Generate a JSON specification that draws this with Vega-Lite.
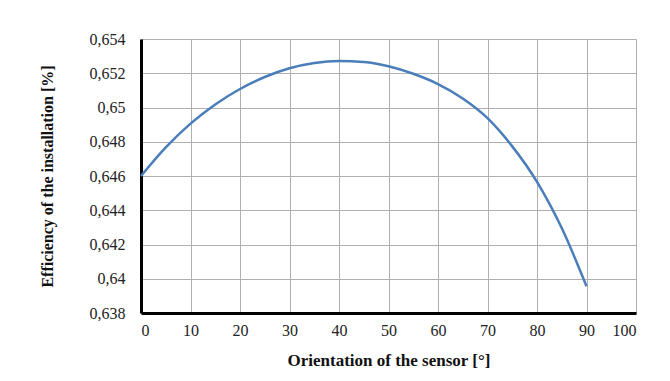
{
  "$schema": "https://vega.github.io/schema/vega-lite/v6.json",
  "autosize": {"type": "none"},
  "width": 495,
  "height": 274,
  "padding": {"left": 141, "top": 39, "right": 34, "bottom": 68},
  "background": "white",
  "config": {
    "view": {"stroke": "#b0b0b0", "strokeWidth": 1},
    "axis": {
      "labelFont": "Times New Roman, Liberation Serif, DejaVu Serif, serif",
      "labelFontSize": 16,
      "labelColor": "#222222",
      "titleFont": "Times New Roman, Liberation Serif, DejaVu Serif, serif",
      "titleFontWeight": "bold",
      "titleColor": "#111111",
      "gridColor": "#b0b0b0",
      "gridWidth": 1,
      "gridOpacity": 1,
      "ticks": false,
      "domainColor": "#000000",
      "domainWidth": 3
    }
  },
  "data": {
    "values": [
      {"angle": 0, "eff": 0.64600},
      {"angle": 5, "eff": 0.64767},
      {"angle": 10, "eff": 0.64906},
      {"angle": 15, "eff": 0.65018},
      {"angle": 20, "eff": 0.65108},
      {"angle": 25, "eff": 0.65178},
      {"angle": 30, "eff": 0.65229},
      {"angle": 35, "eff": 0.65260},
      {"angle": 40, "eff": 0.65272},
      {"angle": 45, "eff": 0.65266},
      {"angle": 50, "eff": 0.65241},
      {"angle": 55, "eff": 0.65197},
      {"angle": 60, "eff": 0.65137},
      {"angle": 65, "eff": 0.65053},
      {"angle": 70, "eff": 0.64938},
      {"angle": 75, "eff": 0.64773},
      {"angle": 80, "eff": 0.64566},
      {"angle": 85, "eff": 0.64296},
      {"angle": 90, "eff": 0.63956}
    ]
  },
  "mark": {"type": "line", "color": "#4a7ebb", "strokeWidth": 2.5, "interpolate": "monotone"},
  "encoding": {
    "x": {
      "field": "angle",
      "type": "quantitative",
      "scale": {"domain": [0, 100], "nice": false},
      "axis": {
        "values": [0, 10, 20, 30, 40, 50, 60, 70, 80, 90, 100],
        "title": "Orientation  of the sensor [°]",
        "titleFontSize": 17,
        "labelPadding": 9,
        "titlePadding": 14
      }
    },
    "y": {
      "field": "eff",
      "type": "quantitative",
      "scale": {"domain": [0.638, 0.654], "nice": false, "zero": false},
      "axis": {
        "values": [0.638, 0.64, 0.642, 0.644, 0.646, 0.648, 0.65, 0.652, 0.654],
        "labelExpr": "replace(format(datum.value, '.3~f'), '.', ',')",
        "title": "Efficiency of the installation  [%]",
        "titleFontSize": 16,
        "labelPadding": 16,
        "titlePadding": 34
      }
    }
  }
}
